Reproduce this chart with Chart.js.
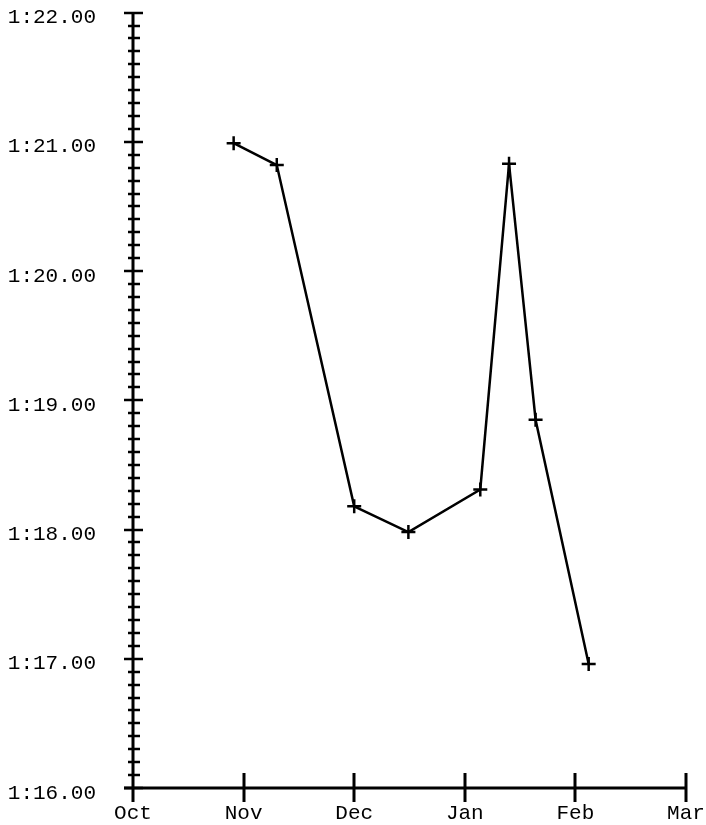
<!DOCTYPE html>
<html>
<head>
<meta charset="utf-8">
<script src="https://cdn.jsdelivr.net/npm/chart.js@4/dist/chart.umd.min.js"></script>
<style>
  html, body { margin: 0; padding: 0; background: #fff; }
  #wrap { width: 706px; height: 825px; position: relative; }
</style>
</head>
<body>
<div id="wrap"><canvas id="lapChart"></canvas></div>
<script>
// month names along the bottom, one per tick (0 = Oct)
const monthLabels = ["Oct", "Nov", "Dec", "Jan", "Feb", "Mar"];
// when each time was set, in months since start of Oct
const raceMonth = [0.91, 1.30, 2.00, 2.49, 3.14, 3.40, 3.64, 4.12];
// lap time in seconds (1:21.00 = 81)
const lapSeconds = [80.99, 80.82, 78.18, 77.98, 78.31, 80.83, 78.85, 76.96];
// y range in seconds
const yMin = 76, yMax = 82;

const fontFam = "'Courier New', Courier, 'Liberation Mono', monospace";

function fmtTime(v) {
    const m = Math.floor(v / 60);
    const s = v - m * 60;
    return m + ":" + s.toFixed(2).padStart(5, "0");
}

// draws the axis lines and the tick marks that cross them
const axisPlugin = {
    id: "crossAxes",
    afterDatasetsDraw(chart) {
        const ctx = chart.ctx;
        const xs = chart.scales.x, ys = chart.scales.y;
        const ax = xs.getPixelForValue(0);
        const ay = ys.getPixelForValue(yMin);
        ctx.save();
        ctx.strokeStyle = "#000";
        ctx.lineWidth = 3;
        ctx.beginPath();
        ctx.moveTo(ax, ys.getPixelForValue(yMax));
        ctx.lineTo(ax, ay + 14);
        ctx.moveTo(ax - 9, ay);
        ctx.lineTo(xs.getPixelForValue(monthLabels.length - 1), ay);
        ctx.stroke();

        // y ticks: majors every second, minors every tenth
        ctx.lineWidth = 2.5;
        ctx.beginPath();
        for (let i = 0; i <= (yMax - yMin) * 10; i++) {
            const py = Math.round(ys.getPixelForValue(yMin + i / 10));
            if (i % 10 === 0) {
                ctx.moveTo(ax - 9, py);
                ctx.lineTo(ax + 10, py);
            } else {
                ctx.moveTo(ax - 5, py);
                ctx.lineTo(ax + 7, py);
            }
        }
        ctx.stroke();
        // x ticks
        ctx.lineWidth = 3;
        ctx.beginPath();
        for (let i = 1; i < monthLabels.length; i++) {
            const px = Math.round(xs.getPixelForValue(i));
            ctx.moveTo(px, ay - 15);
            ctx.lineTo(px, ay + 14);
        }
        ctx.stroke();
        ctx.restore();
    }
};

const points = raceMonth.map((m, i) => ({ x: m, y: lapSeconds[i] }));

const hiddenGrid = (len) => ({
    display: true,
    drawOnChartArea: false,
    drawTicks: true,
    tickLength: len,
    color: "rgba(0,0,0,0)"
});

new Chart(document.getElementById("lapChart"), {
    type: "line",
    data: {
        datasets: [{
            data: points,
            borderColor: "#000",
            borderWidth: 2.5,
            tension: 0,
            fill: false,
            pointStyle: "cross",
            pointRadius: 7,
            pointBorderWidth: 2.5,
            pointBorderColor: "#000",
            pointHoverRadius: 7
        }]
    },
    options: {
        responsive: true,
        maintainAspectRatio: false,
        animation: false,
        layout: { padding: { top: 12, right: 20, left: 0, bottom: 0 } },
        plugins: {
            legend: { display: false },
            tooltip: { enabled: false }
        },
        scales: {
            x: {
                type: "linear",
                min: 0,
                max: monthLabels.length - 1,
                border: { display: false },
                grid: hiddenGrid(13),
                ticks: {
                    stepSize: 1,
                    autoSkip: false,
                    maxRotation: 0,
                    padding: 0,
                    color: "#000",
                    font: { family: fontFam, size: 21 },
                    callback: v => monthLabels[v]
                },
                afterFit: s => { s.height = 37; }
            },
            y: {
                min: yMin,
                max: yMax,
                border: { display: false },
                grid: hiddenGrid(37),
                ticks: {
                    stepSize: 1,
                    padding: 0,
                    labelOffset: 5,
                    color: "#000",
                    font: { family: fontFam, size: 21 },
                    callback: v => fmtTime(v)
                },
                afterFit: s => { s.width = 133; }
            }
        }
    },
    plugins: [axisPlugin]
});
</script>
</body>
</html>
